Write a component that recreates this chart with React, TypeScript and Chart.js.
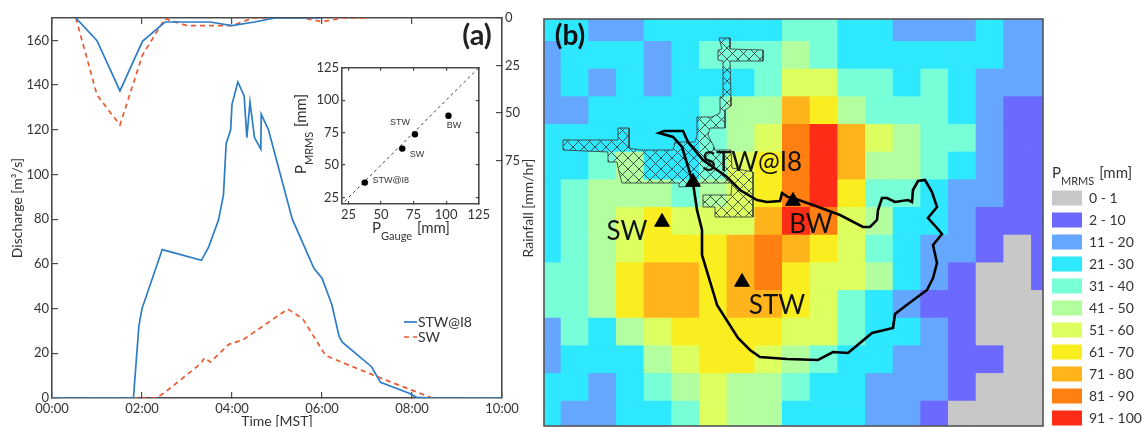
import React, { useEffect, useRef } from "react";
import { Chart, registerables } from "chart.js";

Chart.register(...registerables);

// ---------- panel (a): hydrographs and hyetographs (time in hours) ----------
const flowTimeI8 = [0, 1.81, 1.93, 2.0, 2.45, 3.32, 3.48, 3.7, 3.81, 3.87, 3.97, 4.0, 4.13, 4.27, 4.33, 4.4, 4.5, 4.64, 4.65, 4.81, 5.34, 5.82, 6.0, 6.22, 6.38, 6.45, 7.1, 7.3, 7.95, 8.1, 8.45, 10];
const flowI8 = [0, 0, 32, 40, 66.4, 61.6, 67.5, 79.6, 90.7, 113.8, 120, 131.4, 141.4, 135.1, 116.5, 132.4, 116.5, 111.3, 126.9, 120, 80, 58, 53.6, 41.7, 27.5, 25, 14, 7, 2, 0.3, 0, 0];
const flowTimeSW = [0, 2.32, 2.51, 3.31, 3.39, 3.52, 3.93, 4.24, 5.24, 5.57, 6.08, 6.5, 7.42, 8.19, 8.45, 10];
const flowSW = [0, 0, 2.5, 15.5, 18, 16, 24, 26, 39.8, 35.5, 19, 15.5, 8, 2, 0, 0];
const rainTimeI8 = [0.53, 1.0, 1.51, 2.01, 2.51, 3.51, 4.0, 4.5, 4.96, 6];
const rainI8 = [0, 11.9, 38.4, 12.3, 2.1, 2.1, 4.0, 2.1, 0, 0];
const rainTimeSW = [0.53, 1.0, 1.51, 2.01, 2.51, 3.0, 3.51, 4.0, 4.36, 4.5, 5.6, 6.0, 6.45, 7];
const rainSW = [0, 40.5, 56.3, 19.5, 0.3, 4, 4, 4, 1, 0, 0, 2, 0, 0];
const timeTicks = [0, 2, 4, 6, 8, 10];
const timeLabels = ["00:00", "02:00", "04:00", "06:00", "08:00", "10:00"];
const flowTicks = [0, 20, 40, 60, 80, 100, 120, 140, 160];
const rainTicks = [0, 25, 50, 75];
const seriesNames = ["STW@I8", "SW"];

// ---------- inset: gauge vs radar ----------
const insetNames = ["STW@I8", "SW", "STW", "BW"];
const insetGauge = [37.5, 66.3, 76, 101.8];
const insetMrms = [36.5, 62.7, 73.8, 88];
const insetTicks = [25, 50, 75, 100, 125];
const insetLineEnds = [22, 125];

// ---------- panel (b): rainfall bins per cell ----------
const binLabels = ["0 - 1", "2 - 10", "11 - 20", "21 - 30", "31 - 40", "41 - 50", "51 - 60", "61 - 70", "71 - 80", "81 - 90", "91 - 100"];
const binColors = ["#c8c8c8", "#6b69ff", "#65a6ff", "#2de8ff", "#78ffd8", "#b3ffa0", "#ddff5f", "#fbee20", "#ffb41c", "#ff7f10", "#ff2c17"];
const mrmsBins = [
  [3, 3, 2, 2, 3, 3, 3, 3, 3, 4, 4, 3, 3, 2, 2, 2, 3, 2, 2],
  [2, 3, 3, 3, 2, 3, 4, 4, 4, 5, 4, 3, 3, 3, 3, 3, 3, 2, 2],
  [2, 3, 2, 3, 2, 3, 3, 3, 4, 6, 6, 4, 4, 3, 4, 3, 2, 2, 2],
  [2, 2, 3, 3, 3, 3, 4, 5, 5, 8, 7, 5, 4, 4, 4, 3, 2, 1, 1],
  [3, 3, 3, 3, 3, 3, 4, 5, 6, 9, 10, 8, 6, 5, 4, 4, 2, 1, 1],
  [3, 3, 4, 5, 3, 3, 4, 6, 7, 9, 10, 8, 5, 5, 4, 3, 2, 1, 1],
  [3, 4, 5, 5, 5, 4, 5, 6, 7, 9, 10, 7, 4, 4, 3, 2, 2, 1, 1],
  [3, 4, 5, 6, 7, 6, 6, 6, 8, 10, 9, 6, 5, 3, 3, 2, 1, 1, 1],
  [3, 4, 5, 6, 7, 7, 7, 8, 9, 8, 7, 6, 4, 3, 2, 2, 1, 0, 1],
  [4, 4, 5, 7, 8, 8, 7, 8, 9, 7, 6, 6, 5, 3, 2, 1, 0, 0, 1],
  [4, 4, 5, 7, 8, 8, 7, 8, 8, 7, 6, 4, 3, 2, 1, 1, 0, 0, 0],
  [2, 4, 3, 5, 6, 7, 7, 7, 7, 6, 6, 4, 3, 3, 2, 1, 0, 0, 0],
  [2, 3, 3, 3, 5, 6, 7, 7, 6, 5, 4, 3, 3, 2, 2, 1, 1, 0, 0],
  [3, 3, 2, 3, 4, 5, 6, 5, 5, 4, 3, 3, 2, 2, 2, 1, 0, 0, 0],
  [3, 2, 2, 3, 3, 4, 6, 5, 5, 3, 3, 3, 2, 2, 1, 0, 0, 0, 0],
];

// Map geometry, in map coordinates
const urbanOutline = [[719, 38], [730, 38], [730, 49], [763, 50], [763, 61], [730, 61], [731, 97], [731, 106], [725, 110], [725, 128], [710, 128], [708, 135], [714, 147], [714, 150], [731, 150], [732, 168], [753, 172], [753, 217], [715, 217], [715, 207], [703, 207], [703, 195], [731, 195], [732, 183], [723, 183], [700, 183], [697, 186], [679, 187], [679, 183], [622, 183], [619, 172], [617, 162], [608, 162], [608, 152], [563, 150], [563, 140], [618, 140], [618, 128], [629, 128], [629, 148], [640, 150], [673, 150], [675, 142], [695, 142], [697, 135], [697, 117], [712, 117], [720, 113], [720, 97], [723, 97], [723, 71], [723, 61], [718, 60], [718, 50], [722, 49], [719, 38]];
const basinOutline = [[693, 183], [682, 147], [673, 137], [659, 133], [664, 131], [683, 131], [688, 142], [703, 160], [727, 177], [740, 190], [757, 200], [767, 202], [780, 201], [782, 193], [788, 197], [793, 198], [813, 205], [840, 215], [863, 227], [870, 227], [877, 220], [878, 210], [882, 198], [887, 198], [895, 202], [908, 200], [912, 202], [913, 190], [918, 181], [925, 180], [932, 192], [937, 207], [928, 218], [937, 228], [942, 234], [933, 245], [937, 263], [933, 278], [927, 290], [908, 304], [895, 314], [893, 328], [872, 333], [860, 343], [848, 353], [833, 352], [818, 360], [787, 359], [760, 357], [750, 350], [738, 338], [717, 305], [715, 298], [702, 255], [702, 230], [697, 210], [693, 183]];
const gaugeSites = [[693, 182], [793, 201], [662, 222], [742, 282]];
const siteNames = ["STW@I8", "BW", "SW", "STW"];
const siteLabelAt = [[752, 163], [811, 225], [627, 232], [777, 306]];

const INK = "#333333";
const FRAME = "#4a4a4a";
const SANS = "Lato";

const zip = (xs: number[], ys: number[]) => xs.map((x, i) => ({ x, y: ys[i] }));
const pairs = (list: number[][]) => list.map(([x, y]) => ({ x, y }));

function fixedSize(size: number) {
  return (s: any) => {
    if (s.isHorizontal()) s.height = size;
    else s.width = size;
  };
}
function setTicks(values: number[]) {
  return (s: any) => {
    s.ticks = values.map((value) => ({ value }));
  };
}
function label(ctx: CanvasRenderingContext2D, text: string, x: number, y: number, font: string, color = INK, align: CanvasTextAlign = "center") {
  ctx.save();
  ctx.font = font;
  ctx.fillStyle = color;
  ctx.textAlign = align;
  ctx.textBaseline = "middle";
  ctx.fillText(text, x, y);
  ctx.restore();
}
function subscripted(ctx: CanvasRenderingContext2D, sub: string, x: number, y: number, size: number, rotate: boolean, center: boolean) {
  ctx.save();
  ctx.translate(x, y);
  if (rotate) ctx.rotate(-Math.PI / 2);
  ctx.fillStyle = INK;
  ctx.textAlign = "left";
  ctx.textBaseline = "alphabetic";
  const big = `${size}px ${SANS}`;
  const small = `${Math.round(size * 0.72)}px ${SANS}`;
  ctx.font = big;
  const w1 = ctx.measureText("P").width;
  const w3 = ctx.measureText(" [mm]").width;
  ctx.font = small;
  const w2 = ctx.measureText(sub).width + 1;
  let cx = center ? -(w1 + w2 + w3) / 2 : 0;
  ctx.font = big;
  ctx.fillText("P", cx, 0);
  cx += w1;
  ctx.font = small;
  ctx.fillText(sub, cx, 7);
  cx += w2;
  ctx.font = big;
  ctx.fillText(" [mm]", cx, 0);
  ctx.restore();
}
function hatchPattern() {
  const tile = document.createElement("canvas");
  tile.width = 11;
  tile.height = 11;
  const c = tile.getContext("2d")!;
  c.strokeStyle = "rgba(40,50,50,0.9)";
  c.lineWidth = 0.9;
  c.beginPath();
  c.moveTo(0, 0);
  c.lineTo(11, 11);
  c.moveTo(11, 0);
  c.lineTo(0, 11);
  c.stroke();
  return c.createPattern(tile, "repeat")!;
}
const axisCommon = (tick: number) => ({
  border: { display: true, color: FRAME, width: 1.6 },
  grid: { drawOnChartArea: false, tickLength: -tick, color: FRAME, lineWidth: 1.2 },
});

function buildMain(canvas: HTMLCanvasElement) {
  const tickFont = { family: SANS, size: 13 };
  return new Chart(canvas, {
    type: "line",
    data: {
      datasets: [
        { data: zip(flowTimeI8, flowI8), borderColor: "#2c7dc6", borderWidth: 1.7, pointRadius: 0, xAxisID: "x", yAxisID: "y" },
        { data: zip(flowTimeSW, flowSW), borderColor: "#ea5a30", borderWidth: 1.7, borderDash: [5, 4], pointRadius: 0, xAxisID: "x", yAxisID: "y" },
        { data: zip(rainTimeI8, rainI8), borderColor: "#2c7dc6", borderWidth: 1.7, pointRadius: 0, xAxisID: "x", yAxisID: "y2" },
        { data: zip(rainTimeSW, rainSW), borderColor: "#ea5a30", borderWidth: 1.7, borderDash: [5, 4], pointRadius: 0, xAxisID: "x", yAxisID: "y2" },
      ],
    },
    options: {
      responsive: false,
      animation: false,
      events: [],
      layout: { padding: 0, autoPadding: false },
      plugins: { legend: { display: false }, tooltip: { enabled: false } },
      scales: {
        x: {
          type: "linear", position: "bottom", min: 0, max: 10, ...axisCommon(6),
          afterFit: fixedSize(29), afterBuildTicks: setTicks(timeTicks),
          ticks: { padding: 9, maxRotation: 0, autoSkip: false, color: INK, font: tickFont, callback: (_v: any, i: number) => timeLabels[i] },
          title: { display: true, text: "Time [MST]", color: INK, font: { family: SANS, size: 14 }, padding: { top: 0, bottom: -3 } },
        },
        xTop: {
          type: "linear", position: "top", min: 0, max: 10, ...axisCommon(6),
          afterFit: fixedSize(18), afterBuildTicks: setTicks(timeTicks),
          ticks: { display: false },
        },
        y: {
          type: "linear", position: "left", min: 0, max: 170, ...axisCommon(6),
          afterFit: fixedSize(52), afterBuildTicks: setTicks(flowTicks),
          ticks: { padding: 9, color: INK, font: tickFont },
          title: { display: true, text: "Discharge [m³/s]", color: INK, font: { family: SANS, size: 14 }, padding: { top: 9, bottom: 9 } },
        },
        y2: {
          type: "linear", position: "right", min: 0, max: 200, reverse: true, ...axisCommon(6),
          afterFit: fixedSize(38), afterBuildTicks: setTicks(rainTicks),
          ticks: { padding: 9, color: INK, font: tickFont },
        },
      },
    } as any,
    plugins: [
      {
        id: "panelText",
        afterDraw(chart: any) {
          const { ctx } = chart;
          label(ctx, "(a)", 477, 36, `bold 29px ${SANS}`, "#222");
          ctx.save();
          ctx.translate(528, 208);
          ctx.rotate(-Math.PI / 2);
          label(ctx, "Rainfall [mm/hr]", 0, 0, `14px ${SANS}`);
          ctx.restore();
          seriesNames.forEach((name, i) => {
            const y = 322 + i * 15;
            const ds = chart.data.datasets[i];
            ctx.save();
            ctx.strokeStyle = ds.borderColor;
            ctx.lineWidth = 1.7;
            ctx.setLineDash(ds.borderDash || []);
            ctx.beginPath();
            ctx.moveTo(404, y);
            ctx.lineTo(417, y);
            ctx.stroke();
            ctx.restore();
            label(ctx, name, 418, y, `14px ${SANS}`, INK, "left");
          });
        },
      },
    ],
  });
}

function buildInset(canvas: HTMLCanvasElement) {
  const tickFont = { family: SANS, size: 13 };
  const ox = 292;
  const oy = 54;
  return new Chart(canvas, {
    type: "scatter",
    data: {
      datasets: [
        { data: zip(insetGauge, insetMrms), backgroundColor: "#000", pointRadius: 3.2, showLine: false, order: 0 },
        { data: zip(insetLineEnds, insetLineEnds), borderColor: "#444", borderWidth: 1, borderDash: [3, 3], pointRadius: 0, showLine: true, order: 1 },
      ],
    },
    options: {
      responsive: false,
      animation: false,
      events: [],
      layout: { padding: 0, autoPadding: false },
      plugins: { legend: { display: false }, tooltip: { enabled: false } },
      scales: {
        x: {
          type: "linear", position: "bottom", min: 20, max: 125, ...axisCommon(3),
          afterFit: fixedSize(44), afterBuildTicks: setTicks(insetTicks),
          ticks: { padding: 6, maxRotation: 0, color: INK, font: tickFont },
        },
        xTop: {
          type: "linear", position: "top", min: 20, max: 125, ...axisCommon(3),
          afterFit: fixedSize(10), afterBuildTicks: setTicks(insetTicks),
          ticks: { display: false },
        },
        y: {
          type: "linear", position: "left", min: 20, max: 125, ...axisCommon(3),
          afterFit: fixedSize(50), afterBuildTicks: setTicks(insetTicks),
          ticks: { padding: 6, color: INK, font: tickFont },
        },
        yRight: {
          type: "linear", position: "right", min: 20, max: 125, ...axisCommon(3),
          afterFit: fixedSize(14), afterBuildTicks: setTicks(insetTicks),
          ticks: { display: false },
        },
      },
    } as any,
    plugins: [
      {
        id: "insetText",
        afterDraw(chart: any) {
          const { ctx } = chart;
          const font = "9px 'Liberation Sans'";
          const at = [[390.7, 181], [417, 154.7], [400, 123], [454, 126]];
          insetNames.forEach((n, i) => label(ctx, n, at[i][0] - ox, at[i][1] - oy, font, "#333"));
          subscripted(ctx, "Gauge", 411 - ox, 233 - oy, 15, false, true);
          subscripted(ctx, "MRMS", 306 - ox, 134 - oy, 15, true, true);
        },
      },
    ],
  });
}

function buildMap(canvas: HTMLCanvasElement) {
  const ox = 540;
  const oy = 15;
  const hidden = (extra: any) => ({ type: "linear", display: false, offset: false, ...extra });
  const cellDatasets = mrmsBins.map((row, r) => ({
    type: "bar",
    xAxisID: "xCell",
    yAxisID: "yCell",
    order: 10,
    grouped: false,
    categoryPercentage: 1,
    barPercentage: 1,
    borderWidth: 0,
    data: row.map((_b, c) => ({ x: c + 0.5, y: [r, r + 1] })),
    backgroundColor: row.map((b) => binColors[b]),
  }));
  return new Chart(canvas, {
    type: "bar",
    data: {
      datasets: [
        {
          type: "scatter", xAxisID: "xMap", yAxisID: "yMap", order: 0,
          data: pairs(gaugeSites), pointStyle: "triangle", pointRadius: 8.5, backgroundColor: "#000", borderColor: "#000", showLine: false,
        },
        {
          type: "line", xAxisID: "xMap", yAxisID: "yMap", order: 1,
          data: pairs(basinOutline), borderColor: "#000", borderWidth: 2.6, pointRadius: 0, fill: false,
        },
        {
          type: "line", xAxisID: "xMap", yAxisID: "yMap", order: 2,
          data: pairs(urbanOutline), borderColor: "#3a4444", borderWidth: 0.9, pointRadius: 0, fill: "shape", backgroundColor: hatchPattern(),
        },
        ...cellDatasets,
      ],
    },
    options: {
      responsive: false,
      animation: false,
      events: [],
      layout: { padding: { left: 4, top: 4, right: 99, bottom: 1 }, autoPadding: false },
      plugins: { legend: { display: false }, tooltip: { enabled: false } },
      scales: {
        xCell: hidden({ min: 0.3856, max: 18.42, ticks: { stepSize: 1, includeBounds: false } }),
        yCell: hidden({ min: 0.216, max: 14.925, reverse: true, ticks: { stepSize: 1, includeBounds: false } }),
        xMap: hidden({ min: 544, max: 1043 }),
        yMap: hidden({ min: 19, max: 426, reverse: true }),
      },
    } as any,
    plugins: [
      {
        id: "mapText",
        afterDraw(chart: any) {
          const { ctx, chartArea: a } = chart;
          ctx.save();
          ctx.strokeStyle = "#555";
          ctx.lineWidth = 1.6;
          ctx.strokeRect(a.left, a.top, a.right - a.left, a.bottom - a.top);
          ctx.restore();
          label(ctx, "(b)", 570 - ox, 36 - oy, `bold 28px ${SANS}`, "#111");
          siteNames.forEach((n, i) => label(ctx, n, siteLabelAt[i][0] - ox, siteLabelAt[i][1] - oy, `26px ${SANS}`, "#111"));
          subscripted(ctx, "MRMS", 1052 - ox, 178 - oy, 15, false, false);
          binLabels.forEach((text, i) => {
            const y = 198 + i * 22;
            ctx.fillStyle = binColors[i];
            ctx.fillRect(1052 - ox, y - 7.5 - oy, 30, 15);
            label(ctx, text, 1089 - ox, y - oy, `14px ${SANS}`, INK, "left");
          });
        },
      },
    ],
  });
}

const place = (left: number, top: number): React.CSSProperties => ({ position: "absolute", left, top, display: "block", filter: "blur(0.45px)" });

export default function App() {
  const mainRef = useRef<HTMLCanvasElement>(null);
  const insetRef = useRef<HTMLCanvasElement>(null);
  const mapRef = useRef<HTMLCanvasElement>(null);
  useEffect(() => {
    const charts = [buildMain(mainRef.current!), buildMap(mapRef.current!), buildInset(insetRef.current!)];
    return () => charts.forEach((c) => c.destroy());
  }, []);
  return (
    <div style={{ position: "absolute", left: 0, top: 0, width: 1142, height: 427, overflow: "hidden", background: "#fff" }}>
      <canvas ref={mainRef} width={540} height={427} style={place(0, 0)} />
      <canvas ref={mapRef} width={602} height={412} style={place(540, 15)} />
      <canvas ref={insetRef} width={204} height={194} style={place(292, 54)} />
    </div>
  );
}
